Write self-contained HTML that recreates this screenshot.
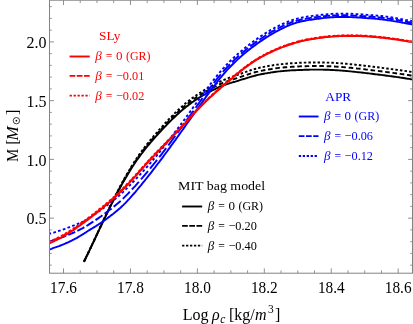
<!DOCTYPE html>
<html><head><meta charset="utf-8"><title>plot</title>
<style>html,body{margin:0;padding:0;background:#fff;overflow:hidden}body{width:413px;height:324px;position:relative;font-family:"Liberation Serif",serif}</style></head>
<body>
<svg width="413" height="324" viewBox="0 0 413 324" style="position:absolute;left:0;top:0;will-change:transform;opacity:0.999;font-family:'Liberation Serif',serif">
<defs><clipPath id="cp"><rect x="49.5" y="0.2" width="363.0" height="273.0"/></clipPath></defs>
<g clip-path="url(#cp)" fill="none" stroke-linejoin="round">
<path d="M83.9,261.8 85.4,258.8 86.9,255.7 88.4,252.6 89.9,249.5 91.4,246.4 92.9,243.2 94.4,240.0 95.9,236.8 97.4,233.6 98.9,230.4 100.4,227.2 101.9,224.1 103.4,220.9 104.9,217.7 106.4,214.6 107.9,211.5 109.4,208.4 110.9,205.4 112.4,202.4 113.9,199.4 115.4,196.5 116.9,193.7 118.4,190.8 119.9,188.1 121.4,185.3 122.9,182.6 124.4,180.0 125.9,177.4 127.4,174.9 128.9,172.4 130.4,170.0 131.9,167.6 133.4,165.3 134.9,163.0 136.4,160.8 137.9,158.7 139.4,156.6 140.9,154.5 142.4,152.6 143.9,150.6 145.4,148.7 146.9,146.9 148.4,145.0 149.9,143.3 151.4,141.5 152.9,139.8 154.4,138.1 155.9,136.4 157.4,134.8 158.9,133.1 160.4,131.5 161.9,129.9 163.4,128.3 164.9,126.7 166.4,125.2 167.9,123.6 169.4,122.1 170.9,120.6 172.4,119.1 173.9,117.7 175.4,116.2 176.9,114.8 178.4,113.5 179.9,112.1 181.4,110.8 182.9,109.5 184.4,108.3 185.9,107.0 187.4,105.9 188.9,104.7 190.4,103.6 191.9,102.5 193.4,101.5 194.9,100.4 196.4,99.4 197.9,98.5 199.4,97.5 200.9,96.6 202.4,95.7 203.9,94.8 205.4,94.0 206.9,93.1 208.4,92.3 209.9,91.6 211.4,90.8 212.9,90.0 214.4,89.3 215.9,88.6 217.4,87.9 218.9,87.2 220.4,86.5 221.9,85.9 223.4,85.3 224.9,84.8 226.4,84.3 227.9,83.8 229.4,83.3 230.9,82.9 232.4,82.4 233.9,82.0 235.4,81.6 236.9,81.1 238.4,80.7 239.9,80.2 241.4,79.7 242.9,79.2 244.4,78.8 245.9,78.3 247.4,77.8 248.9,77.4 250.4,76.9 251.9,76.5 253.4,76.1 254.9,75.7 256.4,75.3 257.9,74.9 259.4,74.6 260.9,74.3 262.4,74.0 263.9,73.7 265.4,73.4 266.9,73.2 268.4,72.9 269.9,72.7 271.4,72.4 272.9,72.2 274.4,72.0 275.9,71.8 277.4,71.6 278.9,71.4 280.4,71.3 281.9,71.1 283.4,71.0 284.9,70.9 286.4,70.7 287.9,70.6 289.4,70.5 290.9,70.4 292.4,70.3 293.9,70.3 295.4,70.2 296.9,70.1 298.4,70.0 299.9,70.0 301.4,69.9 302.9,69.9 304.4,69.8 305.9,69.8 307.4,69.7 308.9,69.7 310.4,69.6 311.9,69.6 313.4,69.6 314.9,69.6 316.4,69.6 317.9,69.6 319.4,69.6 320.9,69.6 322.4,69.6 323.9,69.7 325.4,69.7 326.9,69.8 328.4,69.8 329.9,69.9 331.4,69.9 332.9,70.0 334.4,70.1 335.9,70.2 337.4,70.3 338.9,70.4 340.4,70.5 341.9,70.6 343.4,70.7 344.9,70.9 346.4,71.0 347.9,71.1 349.4,71.3 350.9,71.4 352.4,71.6 353.9,71.7 355.4,71.9 356.9,72.1 358.4,72.2 359.9,72.4 361.4,72.5 362.9,72.7 364.4,72.9 365.9,73.1 367.4,73.2 368.9,73.4 370.4,73.6 371.9,73.8 373.4,74.0 374.9,74.2 376.4,74.4 377.9,74.5 379.4,74.7 380.9,74.9 382.4,75.1 383.9,75.3 385.4,75.5 386.9,75.7 388.4,75.9 389.9,76.1 391.4,76.3 392.9,76.5 394.4,76.7 395.9,76.9 397.4,77.1 398.9,77.3 400.4,77.6 401.9,77.8 403.4,78.0 404.9,78.2 406.4,78.5 407.9,78.7 409.4,78.9 410.9,79.2 412.4,79.4" stroke="#000" stroke-width="1.95"/>
<path d="M83.9,261.8 85.4,258.8 86.9,255.7 88.4,252.6 89.9,249.4 91.4,246.2 92.9,243.0 94.4,239.8 95.9,236.6 97.4,233.4 98.9,230.2 100.4,227.0 101.9,223.8 103.4,220.6 104.9,217.4 106.4,214.3 107.9,211.1 109.4,208.0 110.9,205.0 112.4,202.0 113.9,199.0 115.4,196.0 116.9,193.1 118.4,190.2 119.9,187.4 121.4,184.7 122.9,181.9 124.4,179.3 125.9,176.6 127.4,174.1 128.9,171.5 130.4,169.1 131.9,166.7 133.4,164.3 134.9,162.0 136.4,159.8 137.9,157.6 139.4,155.5 140.9,153.4 142.4,151.4 143.9,149.4 145.4,147.5 146.9,145.6 148.4,143.8 149.9,142.0 151.4,140.2 152.9,138.4 154.4,136.7 155.9,135.0 157.4,133.3 158.9,131.6 160.4,130.0 161.9,128.4 163.4,126.7 164.9,125.1 166.4,123.5 167.9,122.0 169.4,120.4 170.9,118.9 172.4,117.4 173.9,115.9 175.4,114.4 176.9,113.0 178.4,111.6 179.9,110.2 181.4,108.9 182.9,107.6 184.4,106.3 185.9,105.1 187.4,103.9 188.9,102.7 190.4,101.6 191.9,100.5 193.4,99.4 194.9,98.3 196.4,97.3 197.9,96.3 199.4,95.4 200.9,94.4 202.4,93.5 203.9,92.6 205.4,91.7 206.9,90.9 208.4,90.1 209.9,89.2 211.4,88.5 212.9,87.7 214.4,86.9 215.9,86.2 217.4,85.4 218.9,84.7 220.4,84.0 221.9,83.3 223.4,82.7 224.9,82.1 226.4,81.6 227.9,81.0 229.4,80.5 230.9,80.0 232.4,79.6 233.9,79.1 235.4,78.6 236.9,78.1 238.4,77.6 239.9,77.1 241.4,76.6 242.9,76.1 244.4,75.6 245.9,75.1 247.4,74.6 248.9,74.1 250.4,73.6 251.9,73.2 253.4,72.7 254.9,72.3 256.4,71.9 257.9,71.6 259.4,71.2 260.9,70.9 262.4,70.6 263.9,70.3 265.4,70.0 266.9,69.7 268.4,69.5 269.9,69.2 271.4,69.0 272.9,68.7 274.4,68.5 275.9,68.3 277.4,68.1 278.9,67.9 280.4,67.8 281.9,67.6 283.4,67.5 284.9,67.3 286.4,67.2 287.9,67.1 289.4,67.0 290.9,66.9 292.4,66.8 293.9,66.7 295.4,66.6 296.9,66.6 298.4,66.5 299.9,66.4 301.4,66.3 302.9,66.3 304.4,66.2 305.9,66.2 307.4,66.1 308.9,66.1 310.4,66.1 311.9,66.0 313.4,66.0 314.9,66.0 316.4,66.0 317.9,66.0 319.4,66.0 320.9,66.0 322.4,66.0 323.9,66.1 325.4,66.1 326.9,66.2 328.4,66.2 329.9,66.3 331.4,66.3 332.9,66.4 334.4,66.5 335.9,66.6 337.4,66.7 338.9,66.8 340.4,66.9 341.9,67.0 343.4,67.1 344.9,67.3 346.4,67.4 347.9,67.5 349.4,67.7 350.9,67.8 352.4,68.0 353.9,68.1 355.4,68.3 356.9,68.5 358.4,68.6 359.9,68.8 361.4,68.9 362.9,69.1 364.4,69.3 365.9,69.5 367.4,69.6 368.9,69.8 370.4,70.0 371.9,70.2 373.4,70.4 374.9,70.6 376.4,70.8 377.9,70.9 379.4,71.1 380.9,71.3 382.4,71.5 383.9,71.7 385.4,71.9 386.9,72.1 388.4,72.3 389.9,72.5 391.4,72.7 392.9,72.9 394.4,73.1 395.9,73.3 397.4,73.5 398.9,73.7 400.4,73.9 401.9,74.1 403.4,74.3 404.9,74.6 406.4,74.8 407.9,75.0 409.4,75.2 410.9,75.5 412.4,75.7" stroke="#000" stroke-width="1.95" stroke-dasharray="4.6 2.75"/>
<path d="M83.9,261.8 85.4,258.8 86.9,255.6 88.4,252.5 89.9,249.3 91.4,246.1 92.9,242.9 94.4,239.6 95.9,236.4 97.4,233.2 98.9,229.9 100.4,226.7 101.9,223.5 103.4,220.3 104.9,217.1 106.4,213.9 107.9,210.8 109.4,207.7 110.9,204.6 112.4,201.5 113.9,198.5 115.4,195.5 116.9,192.6 118.4,189.7 119.9,186.8 121.4,184.0 122.9,181.2 124.4,178.5 125.9,175.9 127.4,173.3 128.9,170.7 130.4,168.2 131.9,165.7 133.4,163.4 134.9,161.0 136.4,158.8 137.9,156.6 139.4,154.4 140.9,152.3 142.4,150.3 143.9,148.3 145.4,146.3 146.9,144.4 148.4,142.5 149.9,140.7 151.4,138.8 152.9,137.1 154.4,135.3 155.9,133.6 157.4,131.9 158.9,130.2 160.4,128.5 161.9,126.8 163.4,125.2 164.9,123.5 166.4,121.9 167.9,120.3 169.4,118.7 170.9,117.2 172.4,115.6 173.9,114.1 175.4,112.6 176.9,111.2 178.4,109.8 179.9,108.4 181.4,107.0 182.9,105.7 184.4,104.4 185.9,103.1 187.4,101.9 188.9,100.7 190.4,99.5 191.9,98.4 193.4,97.3 194.9,96.3 196.4,95.2 197.9,94.2 199.4,93.2 200.9,92.3 202.4,91.3 203.9,90.4 205.4,89.5 206.9,88.6 208.4,87.8 209.9,86.9 211.4,86.1 212.9,85.3 214.4,84.5 215.9,83.7 217.4,83.0 218.9,82.2 220.4,81.5 221.9,80.8 223.4,80.1 224.9,79.5 226.4,78.9 227.9,78.3 229.4,77.7 230.9,77.2 232.4,76.7 233.9,76.2 235.4,75.6 236.9,75.1 238.4,74.6 239.9,74.0 241.4,73.5 242.9,72.9 244.4,72.4 245.9,71.9 247.4,71.3 248.9,70.8 250.4,70.3 251.9,69.9 253.4,69.4 254.9,69.0 256.4,68.6 257.9,68.2 259.4,67.8 260.9,67.5 262.4,67.2 263.9,66.9 265.4,66.6 266.9,66.3 268.4,66.0 269.9,65.7 271.4,65.5 272.9,65.3 274.4,65.0 275.9,64.8 277.4,64.6 278.9,64.4 280.4,64.2 281.9,64.1 283.4,63.9 284.9,63.8 286.4,63.7 287.9,63.5 289.4,63.4 290.9,63.3 292.4,63.2 293.9,63.1 295.4,63.1 296.9,63.0 298.4,62.9 299.9,62.8 301.4,62.8 302.9,62.7 304.4,62.6 305.9,62.6 307.4,62.5 308.9,62.5 310.4,62.5 311.9,62.4 313.4,62.4 314.9,62.4 316.4,62.4 317.9,62.4 319.4,62.4 320.9,62.4 322.4,62.4 323.9,62.5 325.4,62.5 326.9,62.6 328.4,62.6 329.9,62.7 331.4,62.7 332.9,62.8 334.4,62.9 335.9,63.0 337.4,63.1 338.9,63.2 340.4,63.3 341.9,63.4 343.4,63.5 344.9,63.7 346.4,63.8 347.9,63.9 349.4,64.1 350.9,64.2 352.4,64.4 353.9,64.5 355.4,64.7 356.9,64.9 358.4,65.0 359.9,65.2 361.4,65.3 362.9,65.5 364.4,65.7 365.9,65.9 367.4,66.0 368.9,66.2 370.4,66.4 371.9,66.6 373.4,66.8 374.9,67.0 376.4,67.2 377.9,67.3 379.4,67.5 380.9,67.7 382.4,67.9 383.9,68.1 385.4,68.3 386.9,68.5 388.4,68.7 389.9,68.9 391.4,69.1 392.9,69.3 394.4,69.5 395.9,69.7 397.4,69.9 398.9,70.1 400.4,70.3 401.9,70.5 403.4,70.7 404.9,70.9 406.4,71.1 407.9,71.3 409.4,71.6 410.9,71.8 412.4,72.0" stroke="#000" stroke-width="1.95" stroke-dasharray="2.5 2.1"/>
<path d="M48.5,249.8 50.0,249.3 51.5,248.8 53.0,248.2 54.5,247.7 56.0,247.2 57.5,246.6 59.0,246.1 60.5,245.5 62.0,244.9 63.5,244.3 65.0,243.7 66.5,243.0 68.0,242.4 69.5,241.7 71.0,241.0 72.5,240.2 74.0,239.4 75.5,238.6 77.0,237.8 78.5,236.9 80.0,236.0 81.5,235.1 83.0,234.2 84.5,233.2 86.0,232.3 87.5,231.3 89.0,230.3 90.5,229.4 92.0,228.5 93.5,227.6 95.0,226.7 96.5,225.7 98.0,224.8 99.5,223.8 101.0,222.8 102.5,221.7 104.0,220.6 105.5,219.6 107.0,218.5 108.5,217.4 110.0,216.3 111.5,215.1 113.0,214.0 114.5,212.8 116.0,211.6 117.5,210.3 119.0,209.0 120.5,207.7 122.0,206.3 123.5,204.9 125.0,203.4 126.5,201.8 128.0,200.2 129.5,198.6 131.0,196.9 132.5,195.2 134.0,193.5 135.5,191.8 137.0,190.0 138.5,188.2 140.0,186.4 141.5,184.6 143.0,182.7 144.5,180.9 146.0,179.0 147.5,177.1 149.0,175.2 150.5,173.3 152.0,171.4 153.5,169.4 155.0,167.5 156.5,165.5 158.0,163.5 159.5,161.6 161.0,159.6 162.5,157.6 164.0,155.5 165.5,153.5 167.0,151.5 168.5,149.4 170.0,147.4 171.5,145.3 173.0,143.2 174.5,141.2 176.0,139.1 177.5,137.0 179.0,134.9 180.5,132.8 182.0,130.7 183.5,128.6 185.0,126.5 186.5,124.3 188.0,122.2 189.5,120.1 191.0,118.0 192.5,115.9 194.0,113.8 195.5,111.6 197.0,109.5 198.5,107.4 200.0,105.3 201.5,103.2 203.0,101.1 204.5,99.0 206.0,96.9 207.5,94.8 209.0,92.8 210.5,90.7 212.0,88.7 213.5,86.7 215.0,84.8 216.5,82.8 218.0,80.9 219.5,79.0 221.0,77.2 222.5,75.4 224.0,73.6 225.5,71.9 227.0,70.2 228.5,68.6 230.0,67.0 231.5,65.5 233.0,64.0 234.5,62.5 236.0,61.1 237.5,59.6 239.0,58.3 240.5,56.9 242.0,55.6 243.5,54.3 245.0,53.1 246.5,51.8 248.0,50.6 249.5,49.4 251.0,48.3 252.5,47.1 254.0,46.0 255.5,44.9 257.0,43.8 258.5,42.7 260.0,41.6 261.5,40.6 263.0,39.6 264.5,38.6 266.0,37.6 267.5,36.7 269.0,35.7 270.5,34.8 272.0,33.9 273.5,33.1 275.0,32.2 276.5,31.4 278.0,30.6 279.5,29.8 281.0,29.0 282.5,28.3 284.0,27.6 285.5,26.9 287.0,26.2 288.5,25.6 290.0,24.9 291.5,24.3 293.0,23.8 294.5,23.3 296.0,22.8 297.5,22.4 299.0,22.0 300.5,21.6 302.0,21.3 303.5,21.0 305.0,20.7 306.5,20.4 308.0,20.1 309.5,19.9 311.0,19.7 312.5,19.5 314.0,19.3 315.5,19.1 317.0,18.9 318.5,18.7 320.0,18.5 321.5,18.2 323.0,18.1 324.5,17.9 326.0,17.7 327.5,17.6 329.0,17.5 330.5,17.3 332.0,17.2 333.5,17.2 335.0,17.1 336.5,17.0 338.0,17.0 339.5,16.9 341.0,16.9 342.5,16.9 344.0,16.9 345.5,16.9 347.0,17.0 348.5,17.0 350.0,17.1 351.5,17.1 353.0,17.2 354.5,17.3 356.0,17.4 357.5,17.5 359.0,17.5 360.5,17.6 362.0,17.8 363.5,17.9 365.0,18.0 366.5,18.1 368.0,18.2 369.5,18.3 371.0,18.4 372.5,18.5 374.0,18.6 375.5,18.7 377.0,18.9 378.5,19.0 380.0,19.2 381.5,19.4 383.0,19.5 384.5,19.7 386.0,19.9 387.5,20.2 389.0,20.4 390.5,20.6 392.0,20.9 393.5,21.1 395.0,21.4 396.5,21.6 398.0,21.9 399.5,22.1 401.0,22.4 402.5,22.7 404.0,22.9 405.5,23.2 407.0,23.5 408.5,23.8 410.0,24.0 411.5,24.3 413.0,24.6" stroke="#00f" stroke-width="1.95"/>
<path d="M50.0,241.5 51.5,241.0 53.0,240.5 54.5,240.0 56.0,239.5 57.0,239.2M59.1,238.5 60.6,237.9 62.1,237.3 63.6,236.8 65.1,236.2 66.1,235.8M68.2,234.9 69.7,234.3 71.2,233.7 72.7,233.0 74.2,232.3 75.2,231.8M77.3,230.8 78.8,230.1 80.3,229.3 81.8,228.6 83.3,227.8 84.3,227.2M86.4,226.0 87.9,225.1 89.4,224.1 90.9,223.1 92.4,222.1 93.4,221.5M95.5,220.1 97.0,219.1 98.5,218.1 100.0,217.0 101.5,216.0 102.5,215.3M104.6,213.7 106.1,212.6 107.6,211.5 109.1,210.3 110.6,209.2 111.6,208.4M113.7,206.8 115.2,205.6 116.7,204.3 118.2,203.1 119.7,201.8 120.7,200.9M122.8,198.9 124.3,197.4 125.8,195.9 127.3,194.4 128.8,192.8 129.8,191.8M131.9,189.5 133.4,187.9 134.9,186.3 136.4,184.6 137.9,182.9 138.9,181.8M141.0,179.4 142.5,177.7 144.0,175.9 145.5,174.1 147.0,172.3 148.0,171.1M150.1,168.6 151.6,166.7 153.1,164.9 154.6,163.0 156.1,161.1 157.1,159.9M159.2,157.2 160.7,155.3 162.2,153.3 163.7,151.4 165.2,149.4 166.2,148.1M168.3,145.3 169.8,143.3 171.3,141.3 172.8,139.2 174.3,137.2 175.3,135.9M177.4,133.0 178.9,131.0 180.4,128.9 181.9,126.9 183.4,124.8 184.4,123.5M186.5,120.5 188.0,118.4 189.5,116.3 191.0,114.2 192.5,112.1 193.5,110.7M195.6,107.8 197.1,105.7 198.6,103.6 200.1,101.5 201.6,99.4 202.6,98.1M204.7,95.2 206.2,93.1 207.7,91.1 209.2,89.1 210.7,87.1 211.7,85.8M213.8,83.0 215.3,81.1 216.8,79.2 218.3,77.4 219.8,75.5 220.8,74.3M222.9,71.8 224.4,70.1 225.9,68.5 227.4,66.9 228.9,65.3 229.9,64.3M232.0,62.2 233.5,60.7 235.0,59.3 236.5,57.9 238.0,56.5 239.0,55.6M241.1,53.8 242.6,52.5 244.1,51.2 245.6,50.0 247.1,48.8 248.1,48.0M250.2,46.4 251.7,45.2 253.2,44.1 254.7,43.0 256.2,41.9 257.2,41.2M259.3,39.7 260.8,38.7 262.3,37.7 263.8,36.7 265.3,35.7 266.3,35.1M268.4,33.8 269.9,32.9 271.4,32.0 272.9,31.1 274.4,30.3 275.4,29.7M277.5,28.6 279.0,27.9 280.5,27.1 282.0,26.4 283.5,25.7 284.5,25.2M286.6,24.3 288.1,23.7 289.6,23.1 291.1,22.5 292.6,21.9 293.6,21.6M295.7,21.0 297.2,20.6 298.7,20.2 300.2,19.8 301.7,19.5 302.7,19.3M304.8,18.9 306.3,18.6 307.8,18.4 309.3,18.1 310.8,17.9 311.8,17.8M313.9,17.5 315.4,17.3 316.9,17.1 318.4,16.9 319.9,16.7 320.9,16.6M323.0,16.4 324.5,16.2 326.0,16.0 327.5,15.9 329.0,15.8 330.0,15.7M332.1,15.6 333.6,15.5 335.1,15.4 336.6,15.4 338.1,15.3 339.1,15.3M341.2,15.3 342.7,15.3 344.2,15.3 345.7,15.3 347.2,15.3 348.2,15.3M350.3,15.4 351.8,15.5 353.3,15.6 354.8,15.6 356.3,15.7 357.3,15.8M359.4,15.9 360.9,16.0 362.4,16.1 363.9,16.2 365.4,16.3 366.4,16.4M368.5,16.5 370.0,16.7 371.5,16.8 373.0,16.9 374.5,17.0 375.5,17.1M377.6,17.3 379.1,17.4 380.6,17.6 382.1,17.8 383.6,17.9 384.6,18.1M386.7,18.4 388.2,18.6 389.7,18.8 391.2,19.1 392.7,19.3 393.7,19.5M395.8,19.8 397.3,20.1 398.8,20.3 400.3,20.6 401.8,20.9 402.8,21.1M404.9,21.4 406.4,21.7 407.9,22.0 409.4,22.2 410.9,22.5 411.9,22.7" stroke="#00f" stroke-width="1.95"/>
<path d="M48.5,234.0 50.0,233.6 51.5,233.2 53.0,232.8 54.5,232.4 56.0,231.9 57.5,231.4 59.0,230.9 60.5,230.4 62.0,229.9 63.5,229.3 65.0,228.8 66.5,228.2 68.0,227.6 69.5,227.1 71.0,226.5 72.5,225.9 74.0,225.4 75.5,224.8 77.0,224.2 78.5,223.6 80.0,223.0 81.5,222.3 83.0,221.7 84.5,221.0 86.0,220.2 87.5,219.4 89.0,218.4 90.5,217.4 92.0,216.3 93.5,215.3 95.0,214.2 96.5,213.1 98.0,212.0 99.5,211.0 101.0,209.9 102.5,208.8 104.0,207.7 105.5,206.5 107.0,205.4 108.5,204.2 110.0,203.0 111.5,201.8 113.0,200.6 114.5,199.5 116.0,198.3 117.5,197.1 119.0,195.8 120.5,194.4 122.0,193.0 123.5,191.6 125.0,190.1 126.5,188.6 128.0,187.1 129.5,185.6 131.0,184.1 132.5,182.5 134.0,181.0 135.5,179.4 137.0,177.8 138.5,176.3 140.0,174.7 141.5,173.0 143.0,171.4 144.5,169.7 146.0,168.1 147.5,166.4 149.0,164.6 150.5,162.9 152.0,161.1 153.5,159.4 155.0,157.6 156.5,155.8 158.0,153.9 159.5,152.1 161.0,150.2 162.5,148.3 164.0,146.4 165.5,144.5 167.0,142.6 168.5,140.6 170.0,138.6 171.5,136.7 173.0,134.7 174.5,132.7 176.0,130.8 177.5,128.8 179.0,126.8 180.5,124.8 182.0,122.8 183.5,120.8 185.0,118.8 186.5,116.7 188.0,114.7 189.5,112.6 191.0,110.5 192.5,108.4 194.0,106.3 195.5,104.2 197.0,102.1 198.5,100.1 200.0,98.0 201.5,96.0 203.0,94.0 204.5,91.9 206.0,89.9 207.5,88.0 209.0,86.0 210.5,84.0 212.0,82.1 213.5,80.2 215.0,78.3 216.5,76.4 218.0,74.5 219.5,72.7 221.0,71.0 222.5,69.2 224.0,67.6 225.5,65.9 227.0,64.3 228.5,62.8 230.0,61.3 231.5,59.8 233.0,58.4 234.5,57.0 236.0,55.6 237.5,54.3 239.0,52.9 240.5,51.7 242.0,50.4 243.5,49.2 245.0,47.9 246.5,46.7 248.0,45.6 249.5,44.4 251.0,43.3 252.5,42.1 254.0,41.0 255.5,40.0 257.0,38.9 258.5,37.8 260.0,36.8 261.5,35.8 263.0,34.8 264.5,33.9 266.0,32.9 267.5,32.0 269.0,31.1 270.5,30.2 272.0,29.3 273.5,28.5 275.0,27.7 276.5,26.9 278.0,26.2 279.5,25.4 281.0,24.7 282.5,24.0 284.0,23.3 285.5,22.7 287.0,22.1 288.5,21.4 290.0,20.9 291.5,20.3 293.0,19.8 294.5,19.4 296.0,19.0 297.5,18.6 299.0,18.2 300.5,17.9 302.0,17.6 303.5,17.3 305.0,17.0 306.5,16.8 308.0,16.5 309.5,16.3 311.0,16.1 312.5,15.9 314.0,15.7 315.5,15.6 317.0,15.4 318.5,15.2 320.0,15.0 321.5,14.8 323.0,14.7 324.5,14.5 326.0,14.4 327.5,14.2 329.0,14.1 330.5,14.0 332.0,13.9 333.5,13.8 335.0,13.8 336.5,13.7 338.0,13.7 339.5,13.6 341.0,13.6 342.5,13.6 344.0,13.6 345.5,13.6 347.0,13.7 348.5,13.7 350.0,13.8 351.5,13.8 353.0,13.9 354.5,14.0 356.0,14.1 357.5,14.1 359.0,14.2 360.5,14.3 362.0,14.4 363.5,14.5 365.0,14.6 366.5,14.8 368.0,14.9 369.5,15.0 371.0,15.1 372.5,15.2 374.0,15.3 375.5,15.4 377.0,15.6 378.5,15.7 380.0,15.9 381.5,16.0 383.0,16.2 384.5,16.4 386.0,16.6 387.5,16.8 389.0,17.0 390.5,17.3 392.0,17.5 393.5,17.8 395.0,18.0 396.5,18.3 398.0,18.5 399.5,18.8 401.0,19.1 402.5,19.3 404.0,19.6 405.5,19.9 407.0,20.1 408.5,20.4 410.0,20.7 411.5,20.9 413.0,21.2" stroke="#00f" stroke-width="1.95" stroke-dasharray="2.7 2.3"/>
<path d="M48.5,243.7 50.0,243.1 51.5,242.4 53.0,241.7 54.5,241.0 56.0,240.2 57.5,239.5 59.0,238.7 60.5,237.9 62.0,237.0 63.5,236.2 65.0,235.3 66.5,234.4 68.0,233.4 69.5,232.5 71.0,231.5 72.5,230.6 74.0,229.6 75.5,228.6 77.0,227.5 78.5,226.5 80.0,225.4 81.5,224.3 83.0,223.2 84.5,222.1 86.0,221.0 87.5,219.9 89.0,218.7 90.5,217.6 92.0,216.4 93.5,215.3 95.0,214.1 96.5,212.9 98.0,211.7 99.5,210.5 101.0,209.3 102.5,208.0 104.0,206.8 105.5,205.5 107.0,204.3 108.5,203.0 110.0,201.7 111.5,200.3 113.0,199.0 114.5,197.6 116.0,196.2 117.5,194.8 119.0,193.3 120.5,191.9 122.0,190.4 123.5,188.9 125.0,187.3 126.5,185.8 128.0,184.2 129.5,182.6 131.0,181.0 132.5,179.4 134.0,177.8 135.5,176.2 137.0,174.5 138.5,172.9 140.0,171.2 141.5,169.5 143.0,167.8 144.5,166.1 146.0,164.4 147.5,162.8 149.0,161.1 150.5,159.5 152.0,157.9 153.5,156.3 155.0,154.7 156.5,153.2 158.0,151.6 159.5,150.1 161.0,148.5 162.5,147.0 164.0,145.5 165.5,143.9 167.0,142.4 168.5,140.9 170.0,139.3 171.5,137.8 173.0,136.2 174.5,134.6 176.0,133.1 177.5,131.5 179.0,129.9 180.5,128.2 182.0,126.6 183.5,125.0 185.0,123.4 186.5,121.7 188.0,120.1 189.5,118.5 191.0,116.8 192.5,115.2 194.0,113.6 195.5,112.0 197.0,110.4 198.5,108.8 200.0,107.3 201.5,105.8 203.0,104.3 204.5,102.8 206.0,101.3 207.5,99.9 209.0,98.4 210.5,97.0 212.0,95.7 213.5,94.3 215.0,92.9 216.5,91.6 218.0,90.3 219.5,89.0 221.0,87.7 222.5,86.4 224.0,85.1 225.5,83.8 227.0,82.5 228.5,81.2 230.0,79.9 231.5,78.7 233.0,77.4 234.5,76.1 236.0,74.9 237.5,73.7 239.0,72.5 240.5,71.3 242.0,70.1 243.5,68.9 245.0,67.8 246.5,66.7 248.0,65.6 249.5,64.5 251.0,63.4 252.5,62.4 254.0,61.4 255.5,60.5 257.0,59.5 258.5,58.6 260.0,57.7 261.5,56.9 263.0,56.1 264.5,55.3 266.0,54.5 267.5,53.7 269.0,53.0 270.5,52.3 272.0,51.6 273.5,50.9 275.0,50.2 276.5,49.6 278.0,48.9 279.5,48.3 281.0,47.7 282.5,47.1 284.0,46.6 285.5,46.1 287.0,45.5 288.5,45.0 290.0,44.5 291.5,44.0 293.0,43.6 294.5,43.1 296.0,42.6 297.5,42.2 299.0,41.8 300.5,41.4 302.0,41.1 303.5,40.7 305.0,40.4 306.5,40.1 308.0,39.8 309.5,39.5 311.0,39.3 312.5,39.0 314.0,38.8 315.5,38.5 317.0,38.3 318.5,38.1 320.0,37.9 321.5,37.7 323.0,37.5 324.5,37.3 326.0,37.1 327.5,37.0 329.0,36.8 330.5,36.7 332.0,36.6 333.5,36.5 335.0,36.4 336.5,36.3 338.0,36.2 339.5,36.1 341.0,36.1 342.5,36.0 344.0,36.0 345.5,36.0 347.0,36.0 348.5,35.9 350.0,35.9 351.5,35.9 353.0,36.0 354.5,36.0 356.0,36.0 357.5,36.0 359.0,36.1 360.5,36.1 362.0,36.2 363.5,36.3 365.0,36.3 366.5,36.4 368.0,36.5 369.5,36.6 371.0,36.7 372.5,36.8 374.0,37.0 375.5,37.1 377.0,37.2 378.5,37.4 380.0,37.5 381.5,37.7 383.0,37.8 384.5,38.0 386.0,38.2 387.5,38.4 389.0,38.6 390.5,38.8 392.0,39.0 393.5,39.2 395.0,39.4 396.5,39.6 398.0,39.8 399.5,40.0 401.0,40.3 402.5,40.5 404.0,40.7 405.5,41.0 407.0,41.2 408.5,41.5 410.0,41.7 411.5,42.0 413.0,42.3" stroke="#f00" stroke-width="1.95"/>
<path d="M48.5,242.9 50.0,242.3 51.5,241.6 53.0,240.9 54.5,240.2 56.0,239.4 57.5,238.7 59.0,237.9 60.5,237.1 62.0,236.2 63.5,235.4 65.0,234.5 66.5,233.6 68.0,232.7 69.5,231.8 71.0,230.8 72.5,229.8 74.0,228.8 75.5,227.8 77.0,226.8 78.5,225.8 80.0,224.7 81.5,223.6 83.0,222.5 84.5,221.4 86.0,220.3 87.5,219.2 89.0,218.1 90.5,216.9 92.0,215.7 93.5,214.6 95.0,213.4 96.5,212.2 98.0,211.0 99.5,209.8 101.0,208.6 102.5,207.4 104.0,206.1 105.5,204.9 107.0,203.6 108.5,202.4 110.0,201.0 111.5,199.7 113.0,198.4 114.5,197.0 116.0,195.6 117.5,194.2 119.0,192.7 120.5,191.3 122.0,189.8 123.5,188.3 125.0,186.7 126.5,185.2 128.0,183.6 129.5,182.0 131.0,180.4 132.5,178.8 134.0,177.2 135.5,175.6 137.0,174.0 138.5,172.3 140.0,170.6 141.5,168.9 143.0,167.2 144.5,165.6 146.0,163.9 147.5,162.2 149.0,160.6 150.5,159.0 152.0,157.4 153.5,155.8 155.0,154.2 156.5,152.7 158.0,151.1 159.5,149.6 161.0,148.0 162.5,146.5 164.0,145.0 165.5,143.5 167.0,141.9 168.5,140.4 170.0,138.9 171.5,137.3 173.0,135.8 174.5,134.2 176.0,132.6 177.5,131.0 179.0,129.4 180.5,127.8 182.0,126.2 183.5,124.6 185.0,122.9 186.5,121.3 188.0,119.7 189.5,118.1 191.0,116.4 192.5,114.8 194.0,113.2 195.5,111.6 197.0,110.0 198.5,108.5 200.0,106.9 201.5,105.4 203.0,103.9 204.5,102.4 206.0,100.9 207.5,99.5 209.0,98.1 210.5,96.7 212.0,95.3 213.5,93.9 215.0,92.6 216.5,91.3 218.0,90.0 219.5,88.6 221.0,87.3 222.5,86.0 224.0,84.8 225.5,83.5 227.0,82.2 228.5,80.9 230.0,79.6 231.5,78.4 233.0,77.1 234.5,75.8 236.0,74.6 237.5,73.4 239.0,72.2 240.5,71.0 242.0,69.8 243.5,68.6 245.0,67.5 246.5,66.4 248.0,65.3 249.5,64.2 251.0,63.1 252.5,62.1 254.0,61.1 255.5,60.2 257.0,59.2 258.5,58.3 260.0,57.4 261.5,56.6 263.0,55.8 264.5,55.0 266.0,54.2 267.5,53.4 269.0,52.7 270.5,52.0 272.0,51.3 273.5,50.6 275.0,49.9 276.5,49.3 278.0,48.6 279.5,48.0 281.0,47.4 282.5,46.8 284.0,46.3 285.5,45.8 287.0,45.2 288.5,44.7 290.0,44.2 291.5,43.7 293.0,43.3 294.5,42.8 296.0,42.3 297.5,41.9 299.0,41.5 300.5,41.1 302.0,40.8 303.5,40.4 305.0,40.1 306.5,39.8 308.0,39.5 309.5,39.2 311.0,39.0 312.5,38.7 314.0,38.5 315.5,38.2 317.0,38.0 318.5,37.8 320.0,37.6 321.5,37.4 323.0,37.2 324.5,37.0 326.0,36.8 327.5,36.7 329.0,36.5 330.5,36.4 332.0,36.3 333.5,36.2 335.0,36.1 336.5,36.0 338.0,35.9 339.5,35.8 341.0,35.8 342.5,35.7 344.0,35.7 345.5,35.7 347.0,35.7 348.5,35.6 350.0,35.6 351.5,35.6 353.0,35.7 354.5,35.7 356.0,35.7 357.5,35.7 359.0,35.8 360.5,35.8 362.0,35.9 363.5,36.0 365.0,36.0 366.5,36.1 368.0,36.2 369.5,36.3 371.0,36.4 372.5,36.5 374.0,36.7 375.5,36.8 377.0,36.9 378.5,37.1 380.0,37.2 381.5,37.4 383.0,37.5 384.5,37.7 386.0,37.9 387.5,38.1 389.0,38.3 390.5,38.5 392.0,38.7 393.5,38.9 395.0,39.1 396.5,39.3 398.0,39.5 399.5,39.7 401.0,40.0 402.5,40.2 404.0,40.4 405.5,40.7 407.0,40.9 408.5,41.2 410.0,41.4 411.5,41.7 413.0,42.0" stroke="#f00" stroke-width="1.95" stroke-dasharray="4.6 2.75"/>
<path d="M48.5,242.1 50.0,241.5 51.5,240.8 53.0,240.1 54.5,239.4 56.0,238.7 57.5,237.9 59.0,237.1 60.5,236.3 62.0,235.5 63.5,234.6 65.0,233.8 66.5,232.9 68.0,231.9 69.5,231.0 71.0,230.1 72.5,229.1 74.0,228.1 75.5,227.1 77.0,226.1 78.5,225.0 80.0,224.0 81.5,222.9 83.0,221.8 84.5,220.7 86.0,219.6 87.5,218.5 89.0,217.4 90.5,216.2 92.0,215.1 93.5,213.9 95.0,212.7 96.5,211.5 98.0,210.3 99.5,209.1 101.0,207.9 102.5,206.7 104.0,205.5 105.5,204.3 107.0,203.0 108.5,201.7 110.0,200.4 111.5,199.1 113.0,197.7 114.5,196.4 116.0,195.0 117.5,193.6 119.0,192.1 120.5,190.7 122.0,189.2 123.5,187.7 125.0,186.1 126.5,184.6 128.0,183.0 129.5,181.5 131.0,179.9 132.5,178.3 134.0,176.7 135.5,175.0 137.0,173.4 138.5,171.7 140.0,170.1 141.5,168.4 143.0,166.7 144.5,165.0 146.0,163.4 147.5,161.7 149.0,160.1 150.5,158.5 152.0,156.9 153.5,155.3 155.0,153.7 156.5,152.2 158.0,150.6 159.5,149.1 161.0,147.6 162.5,146.0 164.0,144.5 165.5,143.0 167.0,141.5 168.5,139.9 170.0,138.4 171.5,136.9 173.0,135.3 174.5,133.7 176.0,132.2 177.5,130.6 179.0,129.0 180.5,127.4 182.0,125.8 183.5,124.1 185.0,122.5 186.5,120.9 188.0,119.3 189.5,117.6 191.0,116.0 192.5,114.4 194.0,112.8 195.5,111.2 197.0,109.6 198.5,108.1 200.0,106.5 201.5,105.0 203.0,103.5 204.5,102.0 206.0,100.6 207.5,99.1 209.0,97.7 210.5,96.3 212.0,95.0 213.5,93.6 215.0,92.3 216.5,90.9 218.0,89.6 219.5,88.3 221.0,87.0 222.5,85.7 224.0,84.4 225.5,83.2 227.0,81.9 228.5,80.6 230.0,79.3 231.5,78.1 233.0,76.8 234.5,75.5 236.0,74.3 237.5,73.1 239.0,71.9 240.5,70.7 242.0,69.5 243.5,68.3 245.0,67.2 246.5,66.1 248.0,65.0 249.5,63.9 251.0,62.8 252.5,61.8 254.0,60.8 255.5,59.9 257.0,58.9 258.5,58.0 260.0,57.1 261.5,56.3 263.0,55.5 264.5,54.7 266.0,53.9 267.5,53.1 269.0,52.4 270.5,51.7 272.0,51.0 273.5,50.3 275.0,49.6 276.5,49.0 278.0,48.3 279.5,47.7 281.0,47.1 282.5,46.5 284.0,46.0 285.5,45.5 287.0,44.9 288.5,44.4 290.0,43.9 291.5,43.4 293.0,43.0 294.5,42.5 296.0,42.0 297.5,41.6 299.0,41.2 300.5,40.8 302.0,40.5 303.5,40.1 305.0,39.8 306.5,39.5 308.0,39.2 309.5,38.9 311.0,38.7 312.5,38.4 314.0,38.2 315.5,37.9 317.0,37.7 318.5,37.5 320.0,37.3 321.5,37.1 323.0,36.9 324.5,36.7 326.0,36.5 327.5,36.4 329.0,36.2 330.5,36.1 332.0,36.0 333.5,35.9 335.0,35.8 336.5,35.7 338.0,35.6 339.5,35.5 341.0,35.5 342.5,35.4 344.0,35.4 345.5,35.4 347.0,35.4 348.5,35.3 350.0,35.3 351.5,35.3 353.0,35.4 354.5,35.4 356.0,35.4 357.5,35.4 359.0,35.5 360.5,35.5 362.0,35.6 363.5,35.7 365.0,35.7 366.5,35.8 368.0,35.9 369.5,36.0 371.0,36.1 372.5,36.2 374.0,36.4 375.5,36.5 377.0,36.6 378.5,36.8 380.0,36.9 381.5,37.1 383.0,37.2 384.5,37.4 386.0,37.6 387.5,37.8 389.0,38.0 390.5,38.2 392.0,38.4 393.5,38.6 395.0,38.8 396.5,39.0 398.0,39.2 399.5,39.4 401.0,39.7 402.5,39.9 404.0,40.1 405.5,40.4 407.0,40.6 408.5,40.9 410.0,41.1 411.5,41.4 413.0,41.7" stroke="#f00" stroke-width="1.95" stroke-dasharray="2.5 2.1"/>
</g>
<g stroke="#828282" stroke-width="1" fill="none">
<rect x="49.5" y="0.2" width="363.0" height="273.0"/>
<path d="M63.50,273.2v-4.8M63.50,0.2v4.8M130.44,273.2v-4.8M130.44,0.2v4.8M197.38,273.2v-4.8M197.38,0.2v4.8M264.32,273.2v-4.8M264.32,0.2v4.8M331.26,273.2v-4.8M331.26,0.2v4.8M398.20,273.2v-4.8M398.20,0.2v4.8M49.5,218.15h4.4M412.5,218.15h-4.4M49.5,159.40h4.4M412.5,159.40h-4.4M49.5,100.65h4.4M412.5,100.65h-4.4M49.5,41.90h4.4M412.5,41.90h-4.4" stroke-width="0.9"/>
<path d="M80.23,273.2v-2.9M80.23,0.2v2.9M96.97,273.2v-2.9M96.97,0.2v2.9M113.70,273.2v-2.9M113.70,0.2v2.9M147.18,273.2v-2.9M147.18,0.2v2.9M163.91,273.2v-2.9M163.91,0.2v2.9M180.64,273.2v-2.9M180.64,0.2v2.9M214.11,273.2v-2.9M214.11,0.2v2.9M230.85,273.2v-2.9M230.85,0.2v2.9M247.58,273.2v-2.9M247.58,0.2v2.9M281.05,273.2v-2.9M281.05,0.2v2.9M297.79,273.2v-2.9M297.79,0.2v2.9M314.52,273.2v-2.9M314.52,0.2v2.9M347.99,273.2v-2.9M347.99,0.2v2.9M364.73,273.2v-2.9M364.73,0.2v2.9M381.46,273.2v-2.9M381.46,0.2v2.9M49.5,265.15h2.3M412.5,265.15h-2.3M49.5,253.40h2.3M412.5,253.40h-2.3M49.5,241.65h2.3M412.5,241.65h-2.3M49.5,229.90h2.3M412.5,229.90h-2.3M49.5,206.40h2.3M412.5,206.40h-2.3M49.5,194.65h2.3M412.5,194.65h-2.3M49.5,182.90h2.3M412.5,182.90h-2.3M49.5,171.15h2.3M412.5,171.15h-2.3M49.5,147.65h2.3M412.5,147.65h-2.3M49.5,135.90h2.3M412.5,135.90h-2.3M49.5,124.15h2.3M412.5,124.15h-2.3M49.5,112.40h2.3M412.5,112.40h-2.3M49.5,88.90h2.3M412.5,88.90h-2.3M49.5,77.15h2.3M412.5,77.15h-2.3M49.5,65.40h2.3M412.5,65.40h-2.3M49.5,53.65h2.3M412.5,53.65h-2.3M49.5,30.15h2.3M412.5,30.15h-2.3M49.5,18.40h2.3M412.5,18.40h-2.3M49.5,6.65h2.3M412.5,6.65h-2.3" stroke-width="0.85"/>
</g>
<g font-size="16px" fill="#000">
<text x="46.5" y="224.2" text-anchor="end">0.5</text>
<text x="46.5" y="165.5" text-anchor="end">1.0</text>
<text x="46.5" y="106.8" text-anchor="end">1.5</text>
<text x="46.5" y="48.0" text-anchor="end">2.0</text>
<text x="63.5" y="292.6" text-anchor="middle" textLength="26.8" lengthAdjust="spacingAndGlyphs">17.6</text>
<text x="130.4" y="292.6" text-anchor="middle" textLength="26.8" lengthAdjust="spacingAndGlyphs">17.8</text>
<text x="197.4" y="292.6" text-anchor="middle" textLength="26.8" lengthAdjust="spacingAndGlyphs">18.0</text>
<text x="264.3" y="292.6" text-anchor="middle" textLength="26.8" lengthAdjust="spacingAndGlyphs">18.2</text>
<text x="331.3" y="292.6" text-anchor="middle" textLength="26.8" lengthAdjust="spacingAndGlyphs">18.4</text>
<text x="398.2" y="292.6" text-anchor="middle" textLength="26.8" lengthAdjust="spacingAndGlyphs">18.6</text>
</g>
<g font-size="16px" fill="#000">
<text x="182.7" y="319.9">Log</text>
<text x="212" y="319.9" font-style="italic">ρ</text>
<text x="220.3" y="322.6" font-style="italic" font-size="11.5px">c</text>
<text x="228.9" y="319.9">[kg/</text>
<text x="255.1" y="319.9" font-style="italic">m</text>
<text x="267.9" y="313.2" font-size="11.5px">3</text>
<text x="275" y="319.9">]</text>
</g>
<g font-size="16px" fill="#000" transform="translate(17.9,162.0) rotate(-90)">
<text x="0" y="0" textLength="13.2" lengthAdjust="spacingAndGlyphs">M</text>
<text x="17.2" y="0">[</text>
<text x="21.4" y="0" font-style="italic" textLength="14.2" lengthAdjust="spacingAndGlyphs">M</text>
<circle cx="41.3" cy="-1.5" r="3.2" fill="none" stroke="#000" stroke-width="0.75"/><circle cx="41.3" cy="-1.5" r="0.85"/>
<text x="47.0" y="0">]</text>
</g>
<g fill="#f00" font-size="13px">
<text x="99" y="40.2" textLength="21.5" lengthAdjust="spacingAndGlyphs">SLy</text>
<path d="M69.6,56.5H89.7" stroke="#f00" stroke-width="1.9" fill="none"/>
<text x="95.3" y="60.3" font-style="italic">β</text>
<text x="105.7" y="60.3" textLength="6.6" lengthAdjust="spacingAndGlyphs">=</text>
<text x="115.9" y="60.3">0</text>
<text x="125.9" y="60.3" textLength="24.6" lengthAdjust="spacingAndGlyphs">(GR)</text>
<path d="M69.6,75.9H89.7" stroke="#f00" stroke-width="1.9" fill="none" stroke-dasharray="5.7 1.5"/>
<text x="95.3" y="80" font-style="italic">β</text>
<text x="105.7" y="80" textLength="6.6" lengthAdjust="spacingAndGlyphs">=</text>
<text x="115.9" y="80" textLength="28.4" lengthAdjust="spacingAndGlyphs">−0.01</text>
<path d="M69.6,95.6H89.7" stroke="#f00" stroke-width="1.9" fill="none" stroke-dasharray="2.3 1.65"/>
<text x="95.3" y="99.6" font-style="italic">β</text>
<text x="105.7" y="99.6" textLength="6.6" lengthAdjust="spacingAndGlyphs">=</text>
<text x="115.9" y="99.6" textLength="28.4" lengthAdjust="spacingAndGlyphs">−0.02</text>
</g>
<g fill="#00f" font-size="13px">
<text x="325.3" y="100.6" textLength="25.9" lengthAdjust="spacingAndGlyphs">APR</text>
<path d="M298.8,116.5H318.5" stroke="#00f" stroke-width="1.9" fill="none"/>
<text x="324" y="120.3" font-style="italic">β</text>
<text x="334.4" y="120.3" textLength="6.6" lengthAdjust="spacingAndGlyphs">=</text>
<text x="344.6" y="120.3">0</text>
<text x="354.6" y="120.3" textLength="24.6" lengthAdjust="spacingAndGlyphs">(GR)</text>
<path d="M298.8,136.1H318.5" stroke="#00f" stroke-width="1.9" fill="none" stroke-dasharray="5.7 1.5"/>
<text x="324" y="139.9" font-style="italic">β</text>
<text x="334.4" y="139.9" textLength="6.6" lengthAdjust="spacingAndGlyphs">=</text>
<text x="344.6" y="139.9" textLength="28.4" lengthAdjust="spacingAndGlyphs">−0.06</text>
<path d="M298.8,156H318.5" stroke="#00f" stroke-width="1.9" fill="none" stroke-dasharray="2.3 1.65"/>
<text x="324" y="160" font-style="italic">β</text>
<text x="334.4" y="160" textLength="6.6" lengthAdjust="spacingAndGlyphs">=</text>
<text x="344.6" y="160" textLength="28.4" lengthAdjust="spacingAndGlyphs">−0.12</text>
</g>
<g fill="#000" font-size="13px">
<text x="178.1" y="189.6" textLength="87" lengthAdjust="spacingAndGlyphs">MIT bag model</text>
<path d="M182.1,206.5H202.2" stroke="#000" stroke-width="1.9" fill="none"/>
<text x="207.8" y="210.3" font-style="italic">β</text>
<text x="218.2" y="210.3" textLength="6.6" lengthAdjust="spacingAndGlyphs">=</text>
<text x="228.4" y="210.3">0</text>
<text x="238.4" y="210.3" textLength="24.6" lengthAdjust="spacingAndGlyphs">(GR)</text>
<path d="M182.1,225.9H202.2" stroke="#000" stroke-width="1.9" fill="none" stroke-dasharray="5.7 1.5"/>
<text x="207.8" y="230" font-style="italic">β</text>
<text x="218.2" y="230" textLength="6.6" lengthAdjust="spacingAndGlyphs">=</text>
<text x="228.4" y="230" textLength="28.4" lengthAdjust="spacingAndGlyphs">−0.20</text>
<path d="M182.1,245.6H202.2" stroke="#000" stroke-width="1.9" fill="none" stroke-dasharray="2.3 1.65"/>
<text x="207.8" y="249.6" font-style="italic">β</text>
<text x="218.2" y="249.6" textLength="6.6" lengthAdjust="spacingAndGlyphs">=</text>
<text x="228.4" y="249.6" textLength="28.4" lengthAdjust="spacingAndGlyphs">−0.40</text>
</g>
</svg>
</body></html>
